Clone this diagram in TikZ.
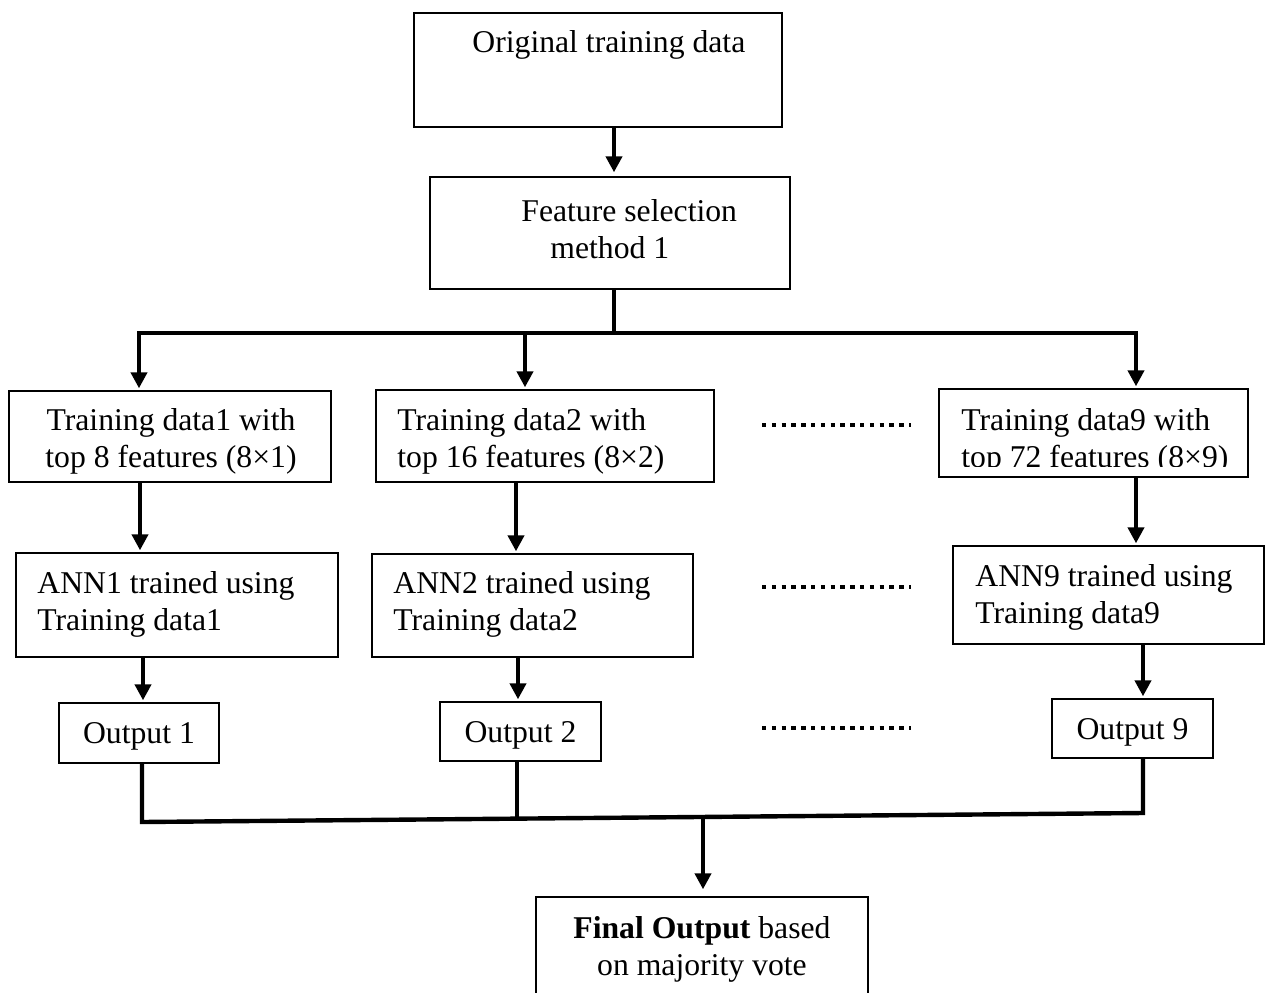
\documentclass[tikz,border=0pt]{standalone}
\usepackage{fontspec}
\setmainfont{Liberation Serif}
\usetikzlibrary{arrows.meta}

\begin{document}
\begin{tikzpicture}[x=0.5pt,y=0.5pt,yscale=-1,
    box/.style={draw, line width=0.7pt, inner sep=0pt},
    txt/.style={inner sep=0pt, anchor=west, align=left, font=\fontsize{15.85}{18.5}\selectfont},
    outbox/.style={box, txt, anchor=center, text depth=0pt},
    wire/.style={line width=2.2pt},
    arr/.style={wire, shorten >=1pt, -{Triangle[length=8pt,width=8pt]}},
    dotrow/.style={line width=2.2pt, dash pattern=on 2.2pt off 2.7pt}]
\clip (0,0) rectangle (1265,992);
% top part
\node[box, minimum width=184pt, minimum height=57pt] (orig) at (598,70) {};
\node[txt] (origtxt) at (472,45) {Original training data};
\node[box, minimum width=180pt, minimum height=56pt] (feat) at (610,233) {};
\node[txt] (feattxt) at (521,229) {Feature selection\\\hspace*{14.5pt}method 1};
\coordinate (top) at (614,0);
\coordinate (split) at (614,333);
\coordinate (busM) at (525,333);
\draw[arr, shorten >=2pt] (orig.south -| top) -- (feat.north -| top);
\draw[wire] (feat.south -| top) -- (split);
% training data boxes
\node[box, minimum width=161pt, minimum height=45.5pt] (b1) at (170,436.5) {};
\node[txt, anchor=center, align=center] (b1txt) at (171,441.5) {Training data1 with\\top 8 features (8×1)};
\node[box, minimum width=169pt, minimum height=46pt] (b2) at (545,436) {};
\node[txt] (b2txt) at (397,441.5) {Training data2 with\\top 16 features (8×2)};
\node[box, minimum width=154.5pt, minimum height=44pt] (b9) at (1093.5,433) {};
\begin{scope}
  \clip (939,389) rectangle (1248,466);
  \node[txt] (b9txt) at (961,441) {Training data9 with\\top 72 features (8×9)};
\end{scope}
\draw[arr] (split) -| (b1.north -| 139,0);
\draw[arr] (split) -| (b9.north -| 1136,0);
\draw[arr] (busM) -- (b2.north -| busM);
% ANN boxes
\node[box, minimum width=161pt, minimum height=52pt] (a1) at (177,605) {};
\node[txt] (a1txt) at (37,604) {ANN1 trained using\\Training data1};
\node[box, minimum width=160.5pt, minimum height=51.5pt] (a2) at (532.5,605.5) {};
\node[txt] (a2txt) at (393,604) {ANN2 trained using\\Training data2};
\node[box, minimum width=155.5pt, minimum height=49pt] (a9) at (1108.5,595) {};
\node[txt] (a9txt) at (975,597.5) {ANN9 trained using\\Training data9};
\coordinate (d1) at (140,0);
\coordinate (d2) at (516,0);
\coordinate (d9) at (1136,0);
\draw[arr] (b1.south -| d1) -- (a1.north -| d1);
\draw[arr] (b2.south -| d2) -- (a2.north -| d2);
\draw[arr] (b9.south -| d9) -- (a9.north -| d9);
% outputs
\node[outbox, minimum width=80pt, minimum height=30pt] (o1) at (139,733) {Output 1};
\node[outbox, minimum width=80.5pt, minimum height=29.5pt] (o2) at (520.5,731.5) {Output 2};
\node[outbox, minimum width=80.5pt, minimum height=29.5pt] (o9) at (1132.5,728.5) {Output 9};
\coordinate (e1) at (143,0);
\coordinate (e2) at (518,0);
\coordinate (e9) at (1143,0);
\draw[arr] (a1.south -| e1) -- (o1.north -| e1);
\draw[arr] (a2.south -| e2) -- (o2.north -| e2);
\draw[arr] (a9.south -| e9) -- (o9.north -| e9);
% dots between columns
\foreach \y in {425,587,728}
  \draw[dotrow] (762,\y) -- (911,\y);
% joining and final box
\coordinate (j1) at (142,822);
\coordinate (j2) at (517,818.6);
\coordinate (j9) at (1143,813);
\coordinate (jm) at (703,817);
\draw[wire] (o1.south -| j1) -- (j1) -- (j9) -- (o9.south -| j9);
\draw[wire] (o2.south -| j2) -- (j2);
\node[box, minimum width=166pt, minimum height=56.5pt] (fin) at (702,953.5) {};
\node[txt, anchor=center, align=center] (fintxt) at (702,949) {\textbf{Final Output} based\\on majority vote};
\draw[arr, shorten >=3.5pt] (jm) -- (fin.north -| jm);
\end{tikzpicture}
\end{document}
